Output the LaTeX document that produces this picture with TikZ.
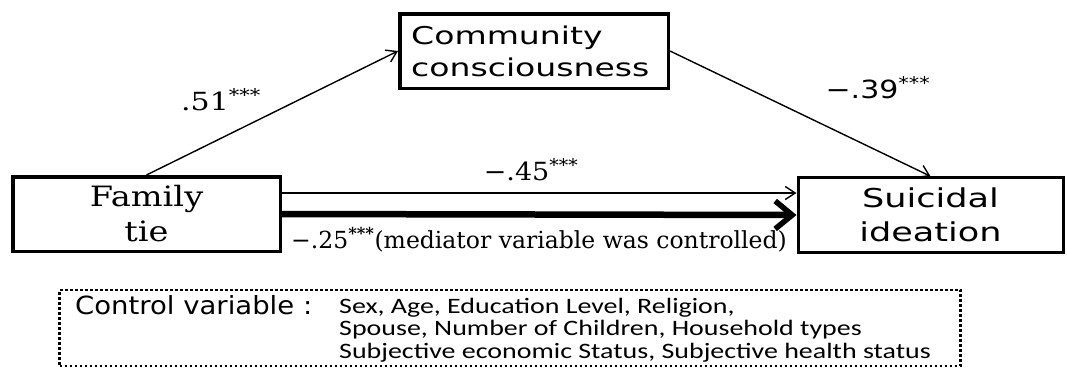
\documentclass[tikz,border=0pt]{standalone}
\usepackage{fontspec}
\setmainfont{DejaVu Serif}
\newfontfamily\serifw[FakeStretch=1.2]{DejaVu Serif}
\newfontfamily\serifm[FakeStretch=1.08]{DejaVu Serif}
\newfontfamily\serifn[FakeStretch=1.0]{DejaVu Serif}
\newfontfamily\sansw[FakeStretch=1.35]{DejaVu Sans}
\newfontfamily\sansc[FakeStretch=1.2]{DejaVu Sans}
\newfontfamily\sansd[FakeStretch=1.1]{DejaVu Sans}
\newfontfamily\carl[FakeStretch=1.27]{Carlito}
\usetikzlibrary{arrows.meta}
\begin{document}
\begin{tikzpicture}[x=1pt,y=-1pt,
  box/.style={draw, line width=3.5pt, inner sep=0pt, minimum width=#1, minimum height=74.5pt},
  thin/.style={line width=1.4pt, -{Straight Barb[length=10pt,width=13pt,line width=1.4pt]}},
  thick/.style={line width=6.5pt, -{Straight Barb[length=17pt,width=28pt,line width=5.5pt]}},
  lbl/.style={inner sep=0pt}]
\useasboundingbox (0,0) rectangle (1067,368);
\node[box=267.5pt] (fam) at (146.5,214) {};
\node[lbl, align=center, font=\serifw\fontsize{28}{35}\selectfont] (famt) at (fam.center) {Family\\tie};
\node[box=268.5pt] (comm) at (534,51) {};
\node[lbl, align=left, font=\sansw\fontsize{24.5}{32}\selectfont, anchor=west] (commt) at ([xshift=13pt]comm.west) {Community\\consciousness};
\node[box=265pt, line width=3pt] (sui) at (930.5,215) {};
\node[lbl, align=center, font=\sansw\fontsize{26}{34}\selectfont] (suit) at (sui.center) {Suicidal\\ideation};
\draw[thin] (fam.north) -- (comm.west);
\draw[thin] (comm.east) -- (sui.north);
\draw[thin] ([yshift=21pt]fam.east) -- ([yshift=22pt]sui.west);
\draw[thick] (fam.east) -- (sui.west);
\node[lbl, font=\serifw\fontsize{25}{25}\selectfont] (a) at (221,100) {.51\textsuperscript{***}};
\node[lbl, font=\sansc\fontsize{25}{25}\selectfont] (b) at (878,88) {−.39\textsuperscript{***}};
\node[lbl, font=\serifm\fontsize{25}{25}\selectfont] (c) at (531,170) {−.45\textsuperscript{***}};
\node[lbl, font=\serifn\fontsize{23.5}{23.5}\selectfont, anchor=west] (d) at (291,240) {−.25\textsuperscript{\bfseries ***}(mediator variable was controlled)};
\node[draw, line width=2.8pt, dash pattern=on 2.6pt off 2.4pt, minimum width=901pt, minimum height=76pt, inner sep=0pt] (ctrl) at (510,328) {};
\node[lbl, font=\sansd\fontsize{25}{25}\selectfont, anchor=base west] (cv) at (75,314) {Control variable :};
\node[lbl, font=\carl\fontsize{22}{22.5}\selectfont, anchor=north west, align=left] (cl) at (339,298) {Sex, Age, Education Level, Religion,\\Spouse, Number of Children, Household types\\Subjective economic Status, Subjective health status};
\end{tikzpicture}
\end{document}
